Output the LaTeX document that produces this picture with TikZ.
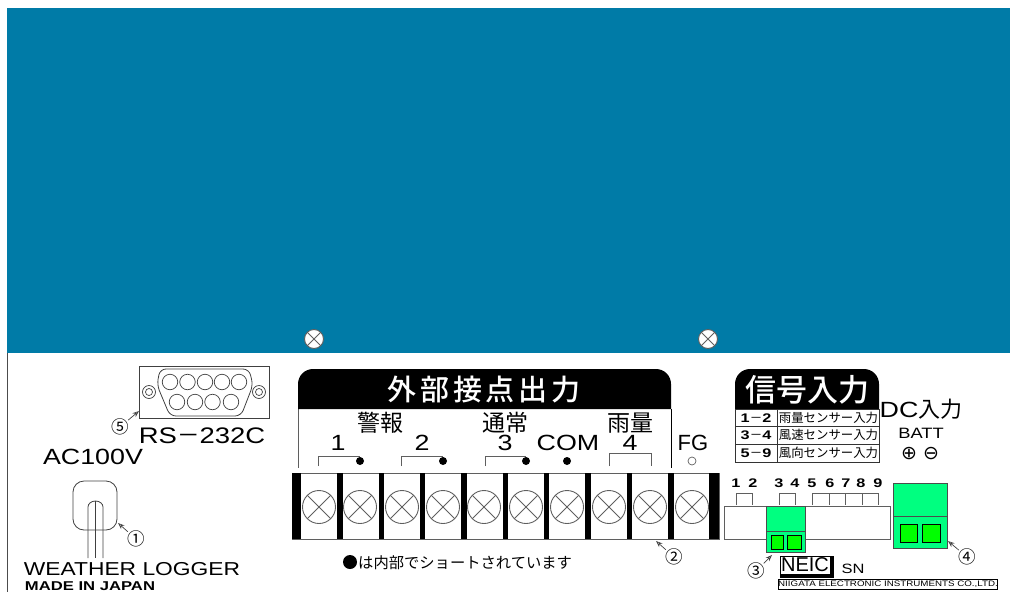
\documentclass[tikz,border=0pt]{standalone}
\usepackage{fontspec}
\setmainfont{Liberation Sans}
\newfontfamily\cjk{Noto Sans CJK JP}
\newfontfamily\cjkwide[LetterSpace=13]{Noto Sans CJK JP Medium}
\newfontfamily\cjkmed{Noto Sans CJK JP Medium}
\newfontfamily\wide[FakeStretch=1.22]{Liberation Sans}
\newfontfamily\widebold[FakeStretch=1.3]{Liberation Sans Bold}
\newfontfamily\symb{DejaVu Sans}
\definecolor{panelblue}{RGB}{0,123,167}
\definecolor{plugbody}{RGB}{0,255,128}
\definecolor{plugslot}{RGB}{0,255,0}
\definecolor{linegray}{RGB}{95,95,95}
\usetikzlibrary{arrows.meta}
\tikzset{
  screw/.style={circle,draw=linegray,line width=0.9pt,inner sep=0pt,minimum size=#1,
    path picture={
      \draw[linegray,line width=0.9pt] (path picture bounding box.north west) -- (path picture bounding box.south east);
      \draw[linegray,line width=0.9pt] (path picture bounding box.north east) -- (path picture bounding box.south west);}},
  screw/.default=33pt,
  pin/.style={circle,draw=black!75,line width=0.7pt,inner sep=0pt,minimum size=#1},
  contact/.style={circle,fill=black,inner sep=0pt,minimum size=8pt},
  leader/.style={-{Stealth[open,length=6.5pt,width=5pt]},line width=0.7pt,black!75,shorten <=-1pt},
  num/.style={font=\cjk\fontsize{17.5}{17.5}\selectfont,inner sep=0pt},
  lbl/.style={font=\wide\fontsize{22}{22}\selectfont,inner sep=0pt},
  kanji/.style={font=\cjk\fontsize{23}{23}\selectfont,inner sep=0pt},
  termnum/.style={font=\widebold\fontsize{12.5}{12.5}\selectfont,inner sep=0pt},
  rowno/.style={font=\widebold\fontsize{12.5}{12.5}\selectfont,inner sep=0pt},
  rowtxt/.style={font=\cjk\fontsize{12.4}{12.4}\selectfont,inner sep=0pt},
  wire/.style={line width=0.8pt,linegray},
  plugbox/.style={fill=plugbody,draw=black!70,line width=0.7pt},
  slotbox/.style={fill=plugslot,draw=black,line width=1pt}
}
\begin{document}
\begin{tikzpicture}[x=1pt,y=-1pt]
  \useasboundingbox (0,0) rectangle (1010,592);

  % panel
  \fill[panelblue] (7,8) rectangle (1010,353);
  \draw[line width=1pt,black!70] (7,353) -- (7,592);
  \node[screw=19pt,fill=white] (s11) at (314,339) {};
  \node[screw=19pt,fill=white] (s12) at (708,339) {};

  % RS-232C
  \draw[line width=0.8pt,black!75] (139,366) rectangle (269,418);
  \draw[line width=0.8pt,black!75,rounded corners=6pt] (160,369) -- (249,369) -- (253,385) -- (241,416) -- (170,416) -- (157,385) -- cycle;
  \node[pin=15.5pt] (t1) at (170,382) {};
  \node[pin=15.5pt] (t2) at (187.5,382) {};
  \node[pin=15.5pt] (t3) at (205,382) {};
  \node[pin=15.5pt] (t4) at (222,382) {};
  \node[pin=15.5pt] (t5) at (239,382) {};
  \node[pin=15.5pt] (b1) at (177,402) {};
  \node[pin=15.5pt] (b2) at (195,402) {};
  \node[pin=15.5pt] (b3) at (212.5,402) {};
  \node[pin=15.5pt] (b4) at (231,402) {};
  \node[pin=13pt] (l1) at (149,392) {};
  \node[pin=7pt] (l2) at (149,392) {};
  \node[pin=13pt] (r1) at (259,392) {};
  \node[pin=7pt] (r2) at (259,392) {};
  \node[lbl,font=\wide\fontsize{22.5}{22.5}\selectfont] (rs) at (202,436) {RS{\cjk －}232C};
  \node[num] (c5) at (120,427) {⑤};
  \coordinate (a5) at (139,411);
  \draw[leader] (c5) -- (a5);

  % AC plug
  \node[lbl] (ac) at (93,457) {AC100V};
  \draw[line width=0.8pt,black!75,rounded corners=11pt] (73,481) rectangle (117,530);
  \draw[line width=0.8pt,black!75] (88,558) -- (88,507) arc (180:360:7.5 and 6) -- (103,558);
  \draw[line width=0.8pt,black!75] (95.5,501) -- (95.5,558);
  \node[num] (c1) at (136,539) {①};
  \coordinate (a1) at (118,523);
  \draw[leader] (c1) -- (a1);
  \node[font=\wide\fontsize{18.7}{18.7}\selectfont,inner sep=0pt] (wl) at (132,569) {WEATHER LOGGER};
  \node[font=\widebold\fontsize{12.8}{12.8}\selectfont,inner sep=0pt] (mj) at (90,586) {MADE IN JAPAN};

  % output header
  \draw[wire] (298,409) -- (298,468);
  \draw[line width=1pt] (671,409) -- (671,468);
  \fill[black] (298,409) -- (298,384) arc (180:270:15) -- (656,369) arc (270:360:15) -- (671,409) -- cycle;
  \node[font=\cjkwide\fontsize{29}{29}\selectfont,text=white,inner sep=0pt] (outtitle) at (484,390) {外部接点出力};
  \node[kanji] (k1) at (380,423) {警報};
  \node[kanji] (k2) at (505,423) {通常};
  \node[kanji] (k3) at (630,423) {雨量};
  \node[lbl] (n1) at (338,443) {1};
  \node[lbl] (n2) at (422,443) {2};
  \node[lbl] (n3) at (505,443) {3};
  \node[lbl] (n4) at (630,443) {4};
  \node[lbl] (com) at (568,443) {COM};
  \node[font=\fontsize{22}{22}\selectfont,inner sep=0pt] (fg) at (693,443) {FG};
  \node[contact] (d1) at (360,461) {};
  \node[contact] (d2) at (443,461) {};
  \node[contact] (d3) at (526,461) {};
  \node[contact] (d4) at (567,461) {};
  \node[circle,draw=linegray,line width=0.7pt,inner sep=0pt,minimum size=8pt] (d5) at (692,461) {};
  \draw[wire] (318,466) |- (d1.north);
  \draw[wire] (401,466) |- (d2.north);
  \draw[wire] (485,466) |- (d3.north);
  \draw[wire] (609,466) -- (609,453) -- (651,453) -- (651,466);

  % terminal block
  \draw[line width=1pt,linegray] (292,473) rectangle (719,539);
  \fill[black] (292,473) rectangle (301,539);
  \fill[black] (337,473) rectangle (343,539);
  \fill[black] (379,473) rectangle (384,539);
  \fill[black] (420,473) rectangle (425,539);
  \fill[black] (461,473) rectangle (467,539);
  \fill[black] (503,473) rectangle (508,539);
  \fill[black] (544,473) rectangle (549,539);
  \fill[black] (585,473) rectangle (591,539);
  \fill[black] (627,473) rectangle (632,539);
  \fill[black] (668,473) rectangle (674,539);
  \fill[black] (709,473) rectangle (719,539);
  \node[screw] (s1) at (319,507) {};
  \node[screw] (s2) at (360,507) {};
  \node[screw] (s3) at (402,507) {};
  \node[screw] (s4) at (443,507) {};
  \node[screw] (s5) at (484,507) {};
  \node[screw] (s6) at (526,507) {};
  \node[screw] (s7) at (567,507) {};
  \node[screw] (s8) at (609,507) {};
  \node[screw] (s9) at (650,507) {};
  \node[screw] (s10) at (692,507) {};
  \node[circle,fill=black,inner sep=0pt,minimum size=14pt] (note0) at (350,562) {};
  \node[font=\cjk\fontsize{15.3}{15.3}\selectfont,inner sep=0pt,anchor=west] (note) at (358,563) {は内部でショートされています};
  \node[num] (c2) at (674,557) {②};
  \coordinate (a2) at (656,541);
  \draw[leader] (c2) -- (a2);

  % input table
  \fill[black] (735,409) -- (735,384) arc (180:270:15) -- (864,369) arc (270:360:15) -- (879,409) -- cycle;
  \node[font=\cjkmed\fontsize{31}{31}\selectfont,text=white,inner sep=0pt] (intitle) at (807,390) {信号入力};
  \draw[line width=1pt,black!80] (735,409) rectangle (879,462);
  \draw[line width=1pt,black!80] (735,426) -- (879,426);
  \draw[line width=1pt,black!80] (735,444) -- (879,444);
  \draw[line width=0.8pt,black!80] (777,409) -- (777,462);
  \node[rowno] (r1) at (756,418) {1{\cjk －}2};
  \node[rowno] (r2) at (756,435) {3{\cjk －}4};
  \node[rowno] (r3) at (756,453) {5{\cjk －}9};
  \node[rowtxt] (x1) at (828.5,418) {雨量センサー入力};
  \node[rowtxt] (x2) at (828.5,435) {風速センサー入力};
  \node[rowtxt] (x3) at (828.5,453) {風向センサー入力};

  % DC input
  \node[font=\wide\fontsize{22}{22}\selectfont,inner sep=0pt] (dc) at (921,409) {DC{\cjk 入力}};
  \node[font=\wide\fontsize{15}{15}\selectfont,inner sep=0pt] (batt) at (921,433) {BATT};
  \node[font=\symb\fontsize{19}{19}\selectfont,inner sep=0pt] (plus) at (909,454) {⊕};
  \node[font=\symb\fontsize{19}{19}\selectfont,inner sep=0pt] (minus) at (931,454) {⊖};

  % sensor terminals
  \node[termnum] (p1) at (736,483) {1};
  \node[termnum] (p2) at (753,483) {2};
  \node[termnum] (p3) at (779,483) {3};
  \node[termnum] (p4) at (795,483) {4};
  \node[termnum] (p5) at (812,483) {5};
  \node[termnum] (p6) at (830,483) {6};
  \node[termnum] (p7) at (846,483) {7};
  \node[termnum] (p8) at (861,483) {8};
  \node[termnum] (p9) at (878,483) {9};
  \draw[wire] (736,505) -- (736,493) -- (752,493) -- (752,505);
  \draw[wire] (779,505) -- (779,493) -- (795,493) -- (795,505);
  \draw[wire] (812,505) -- (812,493) -- (878,493) -- (878,505);
  \draw[wire] (829,493) -- (829,505);
  \draw[wire] (845,493) -- (845,505);
  \draw[wire] (862,493) -- (862,505);
  \draw[line width=0.9pt,linegray] (724,506) rectangle (890,539);

  % green connectors
  \draw[plugbox] (766,506) rectangle (805,552);
  \draw[line width=0.7pt,black!70] (766,531) -- (805,531);
  \draw[slotbox] (771,535) rectangle (783,549);
  \draw[slotbox] (787,535) rectangle (801,549);
  \draw[plugbox] (893,483) rectangle (947,548);
  \draw[line width=0.7pt,black!70] (893,516) -- (947,516);
  \draw[slotbox] (900,524) rectangle (917,542);
  \draw[slotbox] (922,524) rectangle (940,542);
  \node[num] (c3) at (756,571) {③};
  \coordinate (a3) at (772,555);
  \draw[leader] (c3) -- (a3);
  \node[num] (c4) at (967,557) {④};
  \coordinate (a4) at (948,541);
  \draw[leader] (c4) -- (a4);

  % maker marks
  \fill[black] (780,556) rectangle (834,578);
  \fill[white] (780,556) rectangle (830,574.5);
  \draw[line width=0.8pt] (780,556) -- (830,556);
  \draw[line width=0.8pt] (780,556) -- (780,574.5) -- (830,574.5);
  \node[font=\fontsize{20}{20}\selectfont,inner sep=0pt] (neic) at (805,565) {NEIC};
  \node[font=\wide\fontsize{13.5}{13.5}\selectfont,inner sep=0pt] (sn) at (853,569) {SN};
  \node[draw=black,line width=0.8pt,minimum width=219pt,minimum height=10.5pt,inner sep=0pt,font=\wide\fontsize{8}{8}\selectfont] (maker) at (888,584.5) {NIIGATA ELECTRONIC INSTRUMENTS CO.,LTD.};
\end{tikzpicture}
\end{document}
